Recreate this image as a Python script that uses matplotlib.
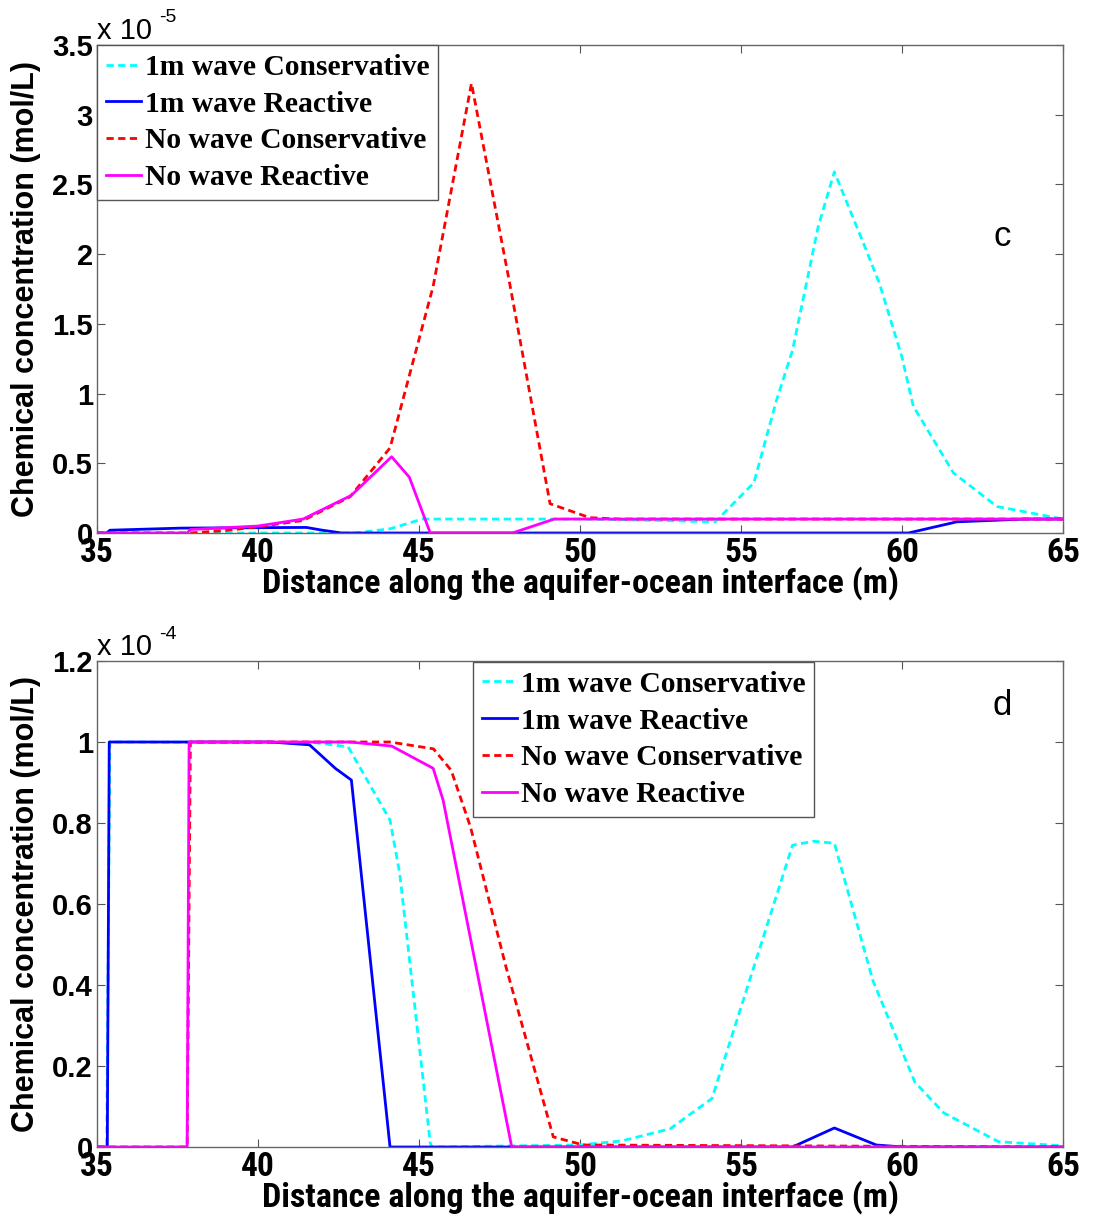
import matplotlib
matplotlib.use('Agg')
import matplotlib.pyplot as plt
from matplotlib import font_manager as fm

# ---- panel c (values in units of 1e-5 mol/L) ----
c_cyan_x = [35, 43.0, 44.1, 45.1, 50.0, 52.5, 54.2, 55.4, 56.1, 56.6, 57.4, 57.9, 58.8, 59.3, 60.0, 60.35, 61.6, 62.95, 65]
c_cyan_y = [0, 0, 0.03, 0.1, 0.1, 0.09, 0.08, 0.36, 0.95, 1.31, 2.2, 2.59, 2.08, 1.79, 1.26, 0.91, 0.43, 0.19, 0.1]

c_blue_x = [35, 35.3, 35.4, 37.6, 41.5, 42.0, 42.6, 60.2, 61.7, 63.8, 65]
c_blue_y = [0, 0, 0.02, 0.035, 0.04, 0.02, 0, 0, 0.08, 0.1, 0.1]

c_red_x = [35, 37.9, 39.1, 40.0, 41.4, 42.86, 44.1, 45.44, 46.63, 47.8, 49.07, 50.3, 51.2, 65]
c_red_y = [0, 0, 0.02, 0.045, 0.09, 0.26, 0.61, 1.77, 3.225, 1.81, 0.21, 0.11, 0.1, 0.1]

c_pink_x = [35, 37.8, 37.9, 40.0, 41.4, 42.9, 44.15, 44.7, 45.35, 47.9, 49.2, 65]
c_pink_y = [0, 0, 0.025, 0.05, 0.1, 0.27, 0.547, 0.4, 0, 0, 0.1, 0.1]

# ---- panel d (values in units of 1e-4 mol/L) ----
d_cyan_x = [35, 35.3, 35.4, 41.8, 42.8, 44.1, 44.4, 45.35, 45.4, 50.0, 51.3, 52.8, 54.1, 55.3, 55.9, 56.6, 57.25, 57.9, 59.1, 60.4, 61.3, 63.0, 65]
d_cyan_y = [0, 0, 1, 0.998, 0.988, 0.807, 0.676, 0.01, 0, 0.005, 0.015, 0.045, 0.12, 0.42, 0.57, 0.745, 0.755, 0.75, 0.41, 0.16, 0.084, 0.013, 0.003]

d_blue_x = [35, 35.32, 35.38, 40.4, 41.6, 42.4, 42.9, 44.1, 56.6, 57.9, 59.2, 60.0, 65]
d_blue_y = [0, 0, 1, 1, 0.993, 0.935, 0.906, 0, 0, 0.047, 0.005, 0, 0]

d_red_x = [35, 37.8, 37.9, 44.1, 45.45, 46.0, 46.6, 47.7, 49.17, 50.1, 65]
d_red_y = [0, 0, 1, 1, 0.983, 0.93, 0.79, 0.445, 0.025, 0.005, 0]

d_pink_x = [35, 37.8, 37.86, 42.85, 44.15, 45.44, 45.75, 47.88, 65]
d_pink_y = [0, 0, 1, 1, 0.99, 0.935, 0.856, 0, 0]

labels = ['1m wave Conservative', '1m wave Reactive', 'No wave Conservative', 'No wave Reactive']
xticks = [35, 40, 45, 50, 55, 60, 65]
c_yticks = [0, 0.5, 1, 1.5, 2, 2.5, 3, 3.5]
c_yticklabels = ['0', '0.5', '1', '1.5', '2', '2.5', '3', '3.5']
d_yticks = [0, 0.2, 0.4, 0.6, 0.8, 1, 1.2]
d_yticklabels = ['0', '0.2', '0.4', '0.6', '0.8', '1', '1.2']


def have(name):
    try:
        fm.findfont(fm.FontProperties(family=name), fallback_to_default=False)
        return True
    except ValueError:
        return False


sans = ['Liberation Sans', 'DejaVu Sans']
serif = ['Liberation Serif', 'DejaVu Serif']
narrow_name = next((n for n in ['Liberation Sans Narrow', 'DejaVu Sans Condensed', 'Roboto Condensed']
                    if have(n)), None)
if narrow_name:
    narrow = [narrow_name, 'DejaVu Sans']
    xtick_size, xlabel_size = 24, 24.5
else:
    # no condensed face: plain Arial-like bold, sized to the same width
    narrow = sans
    xtick_size, xlabel_size = 21, 18.5

W, H = 1093, 1216
fig = plt.figure(figsize=(W / 100, H / 100), dpi=100)


def px_axes(x0, y0, x1, y1):
    return fig.add_axes([x0 / W, 1 - y1 / H, (x1 - x0) / W, (y1 - y0) / H])


def style(ax, yticks, yticklabels, ymax):
    ax.set_xlim(35, 65)
    ax.set_ylim(0, ymax)
    ax.set_xticks(xticks)
    ax.set_xticklabels([str(t) for t in xticks], family=narrow, fontweight='bold', fontsize=xtick_size)
    ax.set_yticks(yticks)
    ax.set_yticklabels(yticklabels, family=sans, fontweight='bold', fontsize=21)
    ax.tick_params(direction='in', top=True, right=True, length=6, width=0.8, color='#555555')
    ax.tick_params(axis='x', pad=3)
    ax.tick_params(axis='y', pad=3)
    for s in ax.spines.values():
        s.set_color('#666666')
        s.set_linewidth(1.0)
    ax.set_xlabel('Distance along the aquifer-ocean interface (m)', family=narrow,
                  fontweight='bold', fontsize=xlabel_size, labelpad=-2)
    ax.set_ylabel('Chemical concentration (mol/L)', family=sans, fontweight='bold', fontsize=22)
    ax.yaxis.set_label_coords(-0.058, 0.5)


def draw(ax, series):
    styles = [('#00FFFF', '--'), ('#0000FF', '-'), ('#FF0000', '--'), ('#FF00FF', '-')]
    for (x, y), (col, ls), lab in zip(series, styles, labels):
        ln, = ax.plot(x, y, color=col, linestyle=ls, lw=2.0, label=lab)
        if ls == '--':
            ln.set_dashes((2.6, 1.6))


def legend(ax, anchor):
    leg = ax.legend(loc='upper left', bbox_to_anchor=anchor, borderaxespad=0,
                    prop={'family': serif, 'weight': 'bold', 'size': 21.3},
                    handlelength=1.2, handletextpad=0.12, borderpad=0.3, labelspacing=0.33,
                    fancybox=False, framealpha=1, edgecolor='#555555')
    leg.get_frame().set_linewidth(1.0)


ax1 = px_axes(97, 45, 1063, 533)
draw(ax1, [(c_cyan_x, c_cyan_y), (c_blue_x, c_blue_y), (c_red_x, c_red_y), (c_pink_x, c_pink_y)])
style(ax1, c_yticks, c_yticklabels, 3.5)
legend(ax1, (0, 1))
ax1.text(63.1, 2.13, 'c', ha='center', va='center', family=sans, fontsize=25)

ax2 = px_axes(97, 661, 1063, 1147)
draw(ax2, [(d_cyan_x, d_cyan_y), (d_blue_x, d_blue_y), (d_red_x, d_red_y), (d_pink_x, d_pink_y)])
style(ax2, d_yticks, d_yticklabels, 1.2)
legend(ax2, ((473 - 97) / 966, 0.998))
ax2.text(63.1, 1.09, 'd', ha='center', va='center', family=sans, fontsize=25)

# exponent labels (MATLAB style)
for yb, exp in [(31, '-5'), (647, '-4')]:
    fig.text(97 / W, 1 - yb / H, 'x 10', ha='left', va='center', family=sans, fontsize=21)
    fig.text(159 / W, 1 - (yb - 13) / H, exp, ha='left', va='center', family=sans, fontsize=14)

fig.savefig('out.png', dpi=100)
